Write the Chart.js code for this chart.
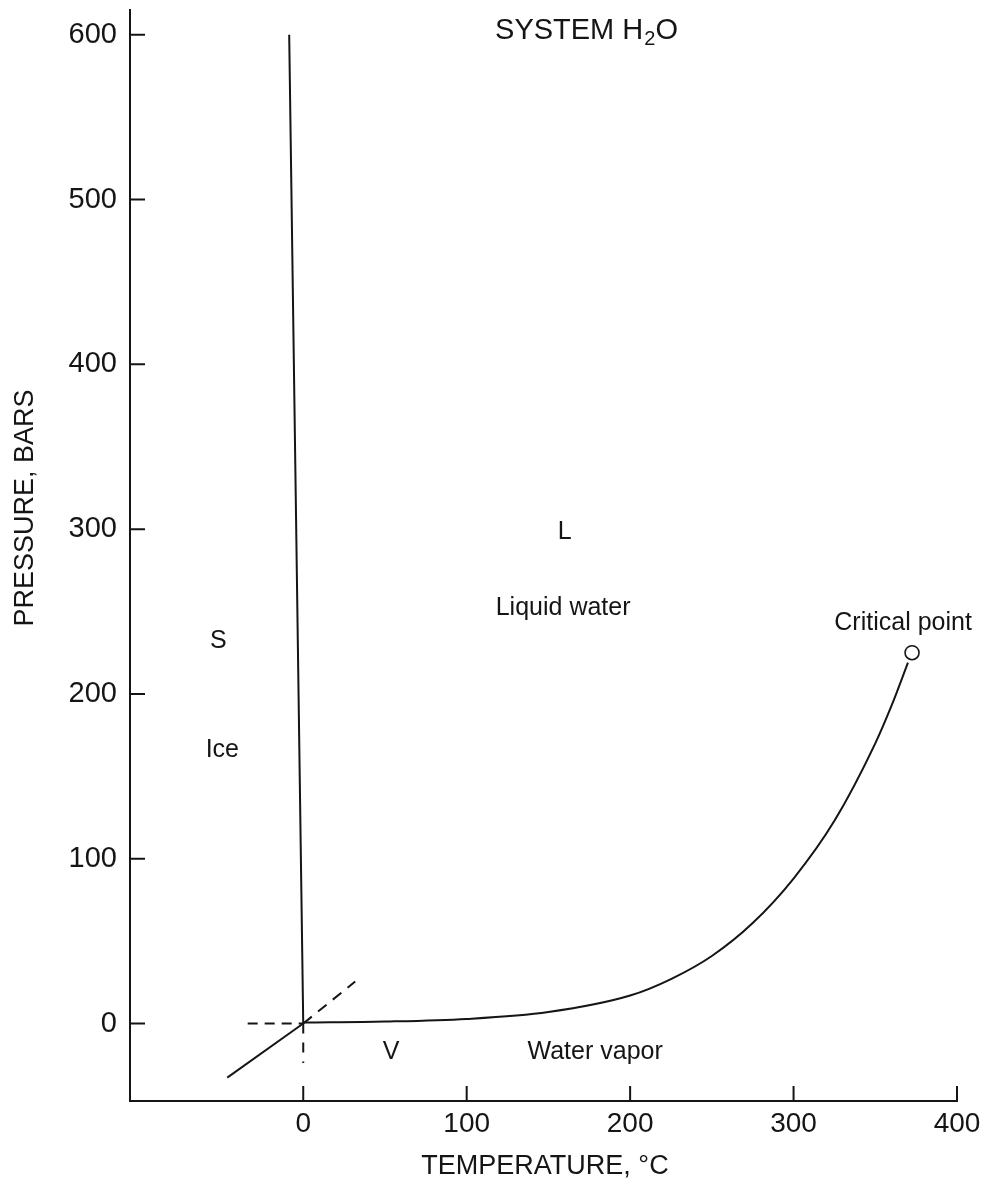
<!DOCTYPE html>
<html>
<head>
<meta charset="utf-8">
<script src="https://cdn.jsdelivr.net/npm/chart.js@4.4.1/dist/chart.umd.min.js"></script>
<style>
  html, body { margin: 0; padding: 0; background: #fff; }
  #wrap { width: 1007px; height: 1189px; position: relative; }
</style>
</head>
<body>
<div id="wrap"><canvas id="c" width="1007" height="1189"></canvas></div>
<script>
// ---- data (temperature °C, pressure bars) ----
const xTicks = [0, 100, 200, 300, 400];
const yTicks = [0, 100, 200, 300, 400, 500, 600];

const meltT = [0, -8.6];
const meltP = [0, 600];

const sublT = [-46.5, 0];
const sublP = [-32.8, 0];

const metaT = [0, 31.8];
const metaP = [0, 25.5];

const hDashT = [-34, 0];
const hDashP = [0, 0];

const vDashT = [0, 0];
const vDashP = [0, -24];

const vapT = [0, 50, 100, 150, 200, 225, 250, 275, 300, 325, 350, 360, 370];
const vapP = [0.6, 1.2, 2.8, 7, 17, 27, 41, 61, 88, 123, 170, 193, 219];

const critT = [372.5];
const critP = [225];

const labelTexts = ['L', 'Liquid water', 'S', 'Ice', 'Critical point', 'V', 'Water vapor'];
const labelT = [160, 159, -52, -49.5, 367, 53.8, 178.6];
const labelP = [298, 252, 232, 166, 243, -17.5, -17.5];

const xTitle = 'TEMPERATURE, °C';
const yTitle = 'PRESSURE, BARS';

const toPts = (xs, ys) => xs.map((x, i) => ({ x: x, y: ys[i] }));

const INK = '#151515';
const FONT = '"Liberation Sans", Arial, sans-serif';

const lineDs = (data, dash, extra) => Object.assign({
  data: data,
  showLine: true,
  borderColor: INK,
  borderWidth: 2,
  borderDash: dash || [],
  pointRadius: 0,
  fill: false,
  tension: 0
}, extra || {});

const decor = {
  id: 'decor',
  afterDraw(chart) {
    const ctx = chart.ctx;
    const xs = chart.scales.x, ys = chart.scales.y;
    const area = chart.chartArea;
    ctx.save();
    // inward tick marks
    ctx.strokeStyle = INK;
    ctx.lineWidth = 2;
    ctx.beginPath();
    xTicks.forEach(v => {
      const px = xs.getPixelForValue(v);
      ctx.moveTo(px, area.bottom);
      ctx.lineTo(px, area.bottom - 15);
    });
    yTicks.forEach(v => {
      const py = ys.getPixelForValue(v);
      ctx.moveTo(area.left, py);
      ctx.lineTo(area.left + 15, py);
    });
    ctx.stroke();

    // region labels
    ctx.fillStyle = INK;
    ctx.textAlign = 'center';
    ctx.textBaseline = 'middle';
    ctx.font = '25px ' + FONT;
    labelTexts.forEach((t, i) => {
      ctx.fillText(t, xs.getPixelForValue(labelT[i]), ys.getPixelForValue(labelP[i]));
    });

    // title SYSTEM H2O
    const big = '29px ' + FONT, small = '20px ' + FONT;
    ctx.font = big;
    const w1 = ctx.measureText('SYSTEM H').width;
    const w3 = ctx.measureText('O').width;
    ctx.font = small;
    const w2 = ctx.measureText('2').width;
    const total = w1 + w2 + w3;
    const cx = 586, by = 39;
    let x0 = cx - total / 2;
    ctx.textAlign = 'left';
    ctx.textBaseline = 'alphabetic';
    ctx.font = big;
    ctx.fillText('SYSTEM H', x0, by);
    ctx.font = small;
    ctx.fillText('2', x0 + w1 + 1, by + 6);
    ctx.font = big;
    ctx.fillText('O', x0 + w1 + w2 + 1, by);

    // axis titles
    ctx.textAlign = 'center';
    ctx.textBaseline = 'middle';
    ctx.font = '27px ' + FONT;
    ctx.fillText(xTitle, 545, 1167);
    ctx.translate(26, 508);
    ctx.rotate(-Math.PI / 2);
    ctx.fillText(yTitle, 0, 0);
    ctx.restore();
  }
};

new Chart(document.getElementById('c'), {
  type: 'scatter',
  data: {
    datasets: [
      lineDs(toPts(meltT, meltP)),
      lineDs(toPts(sublT, sublP)),
      lineDs(toPts(metaT, metaP), [11, 8]),
      lineDs(toPts(hDashT, hDashP), [10, 7]),
      lineDs(toPts(vDashT, vDashP), [10, 9]),
      lineDs(toPts(vapT, vapP), [], { cubicInterpolationMode: 'monotone' }),
      {
        data: toPts(critT, critP),
        pointRadius: 7,
        pointStyle: 'circle',
        pointBackgroundColor: '#fff',
        pointBorderColor: INK,
        pointBorderWidth: 1.6,
        showLine: false
      }
    ]
  },
  options: {
    responsive: false,
    animation: false,
    devicePixelRatio: 1,
    layout: { padding: { top: 10, right: 50, left: 0, bottom: 0 } },
    plugins: { legend: { display: false }, tooltip: { enabled: false }, title: { display: false } },
    scales: {
      x: {
        type: 'linear',
        min: -106,
        max: 400,
        afterBuildTicks: s => { s.ticks = xTicks.map(v => ({ value: v })); },
        afterFit: s => { s.height = 88; s.paddingLeft = 0; s.paddingRight = 0; },
        grid: { display: false, drawTicks: false },
        border: { display: true, color: INK, width: 2 },
        ticks: { color: INK, padding: 6, font: { family: FONT, size: 28 }, maxRotation: 0, autoSkip: false }
      },
      y: {
        type: 'linear',
        min: -47,
        max: 615,
        afterBuildTicks: s => { s.ticks = yTicks.map(v => ({ value: v })); },
        afterFit: s => { s.width = 130; s.paddingTop = 0; s.paddingBottom = 0; },
        grid: { display: false, drawTicks: false },
        border: { display: true, color: INK, width: 2 },
        ticks: { color: INK, padding: 13, font: { family: FONT, size: 29 }, autoSkip: false }
      }
    }
  },
  plugins: [decor]
});
</script>
</body>
</html>
